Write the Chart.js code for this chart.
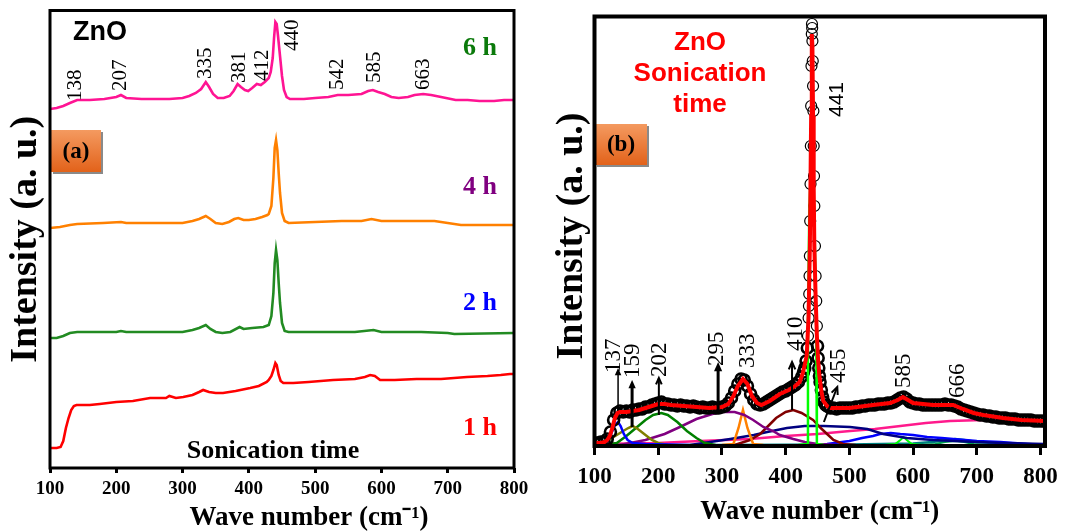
<!DOCTYPE html>
<html><head><meta charset="utf-8">
<script src="https://cdn.jsdelivr.net/npm/chart.js@4.4.1/dist/chart.umd.min.js"></script>
<style>
html,body{margin:0;padding:0;background:#fff;}
#wrap{position:relative;width:1067px;height:532px;overflow:hidden;background:#fff;}
#ca{position:absolute;left:0;top:0;}
#cb{position:absolute;left:533px;top:0;}
</style></head><body>
<div id="wrap"><canvas id="ca" width="533" height="532"></canvas><canvas id="cb" width="534" height="532"></canvas></div>
<script>
// ---------- Panel (a): Raman spectra, stacked (a.u.) ----------
const tickWaves = [100, 200, 300, 400, 500, 600, 700, 800];

const wave6h = [100,110,120,130,141,160,182,200,207,215,238,260,280,300,310,320,328,335,340,346,353,362,371,377,383,388,394,399,405,412,418,424,430,433,436,438,440,442,444,447,450,453,457,462,483,500,520,534,550,570,580,587,595,605,615,626,640,650,663,675,690,712,730,748,770,785,800];
const int6h  = [359,360,362,365,368,368,369,371,373,370,369,369,369,370,372,375,379,386,381,374,370,370,372,377,384,381,378,377,380,384,383,386,390,396,410,430,446,444,432,412,392,378,371,369,369,370,371,373,373,374,377,378,376,374,371,370,371,373,374,373,371,368,368,367,367,368,368];

const wave4h = [100,115,130,141,180,207,215,260,300,315,325,335,342,350,360,370,378,384,392,400,410,420,428,430,434,437,439,441,443,445,447,450,454,460,500,540,570,585,600,650,680,700,720,760,800];
const int4h  = [240,241,243,244,245,246,245,245,245,247,249,252,249,245,244,246,249,250,248,248,249,251,253,254,262,290,320,328,318,295,275,255,247,245,246,247,247,249,247,247,247,245,243,243,243];

const wave2h = [100,110,120,130,141,200,207,215,300,315,325,335,342,350,360,372,386,392,405,422,430,434,437,439,441,443,445,447,450,454,460,500,560,588,600,660,700,710,800];
const int2h  = [130,130,132,135,136,136,137,136,136,138,140,143,139,136,135,136,141,139,140,141,143,152,175,205,218,208,185,165,145,137,136,136,136,138,136,136,135,134,135];

const wave1h = [100,110,116,120,124,128,132,136,140,160,175,200,225,251,275,280,290,301,315,325,331,340,350,361,380,402,415,427,430,434,437,440,442,445,448,452,467,490,527,560,575,583,590,598,620,653,690,729,760,780,794,800];
const int1h  = [20,20,21,27,40,50,58,62,63,63,64,66,67,70,70,72,70,71,73,76,78,76,75,75,77,80,82,86,88,92,98,105,103,93,87,85,85,86,88,89,91,93,92,88,88,89,89,91,92,93,94,94];

// ---------- Panel (b): measured spectrum, fit and fitted components ----------
const bWave = [
 100,105,110,115,120,125,130,135,140,145,
 150,155,160,165,170,175,180,185,190,195,
 200,205,210,215,220,225,230,235,240,245,
 250,255,260,265,270,275,280,285,290,295,
 300,305,310,315,320,325,330,335,340,345,
 350,355,360,365,370,375,380,385,390,395,
 400,405,410,415,420,425,428,430,432,434,
 435,436,436.5,437,437.5,438,438.5,439,439.5,440,
 440.5,441,441.3,441.6,442,442.5,443,443.5,444,444.5,
 445,446,447,448,449,450,451,452,453,454,
 456,458,460,463,465,470,475,480,485,490,
 495,500,505,510,515,520,525,530,535,540,
 545,550,555,560,565,570,575,580,585,590,
 595,600,605,610,615,620,625,630,635,640,
 645,650,655,660,665,670,675,680,685,690,
 695,700,705,710,715,720,725,730,735,740,
 745,750,755,760,765,770,775,780,785,790,
 795,800,805];
const bMeasured = [
 3,3,4,4,7,14,26,33,35,34,
 35,34,36,36,37,37,39,39,41,42,
 43,44,42,42,41,41,40,41,40,40,
 39,40,39,38,39,38,38,39,38,38,
 39,40,43,48,55,62,67,66,60,52,
 46,42,41,42,44,46,48,50,52,54,
 55,57,59,61,64,69,74,78,85,98,
 110,128,140,152,170,190,225,262,300,340,
 380,412,422,418,405,385,360,335,300,270,
 240,200,170,145,120,100,88,78,70,64,
 56,49,44,41,40,38,38,37,38,38,
 38,38,38,39,39,40,40,41,41,41,
 42,42,42,43,43,44,46,48,49,47,
 44,43,42,42,41,41,41,41,41,41,
 41,42,41,41,40,39,37,36,35,34,
 33,32,31,31,30,30,29,29,28,28,
 28,27,27,27,26,26,26,26,26,25,
 25,25,25];

const fitWave = [100,110,116,120,124,128,132,136,140,150,160,170,180,190,200,210,220,240,260,280,300,310,318,325,333,340,347,355,362,375,391,405,415,422,427,433,436,438,440,441,442,443,444,445,447,449,451,453,456,459,465,470,500,537,564,576,584,592,600,631,663,678,695,710,741,770,807];
const fitInt  = [3,3,4,6,10,18,28,33,34,34,35,36,38,40,42,42,41,40,39,38,39,42,50,60,67,62,50,43,41,45,52,56,60,64,73,90,130,200,330,412,400,330,260,200,150,110,85,70,55,45,40,38,38,41,43,46,49,46,43,41,41,37,33,31,28,26,25];

const c137w = [100,115,122,128,133,137,141,146,152,160,180,250];
const c137i = [1,2,6,15,22,24,20,12,6,3,2,1];
const c159w = [105,116,125,135,145,153,160,168,178,190,200,215];
const c159i = [1,3,7,11,15,18,20,17,12,6,3,1];
const c202w = [115,135,150,165,180,192,205,215,230,245,260,273,290];
const c202i = [1,3,10,18,26,31,33,31,24,15,8,3,1];
const c295w = [140,156,180,210,234,260,285,300,320,335,349,365,380,391,412,430,450,480];
const c295i = [1,3,6,12,19,27,32,34,34,31,26,19,15,11,7,4,2,1];
const c333w = [300,318,326,333,340,349,365];
const c333i = [1,2,18,36,18,2,1];
const c410w = [320,344,360,371,385,400,412,425,443,455,465,475,490,510];
const c410i = [1,6,12,19,28,34,36,33,26,18,12,6,2,1];
const c441w = [420,434,435,437,439,441,443,445,448,449,460];
const c441i = [1,2,120,230,268,272,268,230,120,2,1];
const c455w = [250,313,350,371,402,430,460,501,528,553,590,631,700,741,807];
const c455i = [1,7,11,14,18,20,20,19,17,12,8,6,4,3,2];
const c555w = [430,465,500,520,537,548,565,580,600,622,645,663,700,737,780,807];
const c555i = [1,2,5,8,10,12,13,12,11,9,8,7,5,4,2,1];
const c585w = [555,572,580,585,590,598,615];
const c585i = [1,2,6,9,6,2,1];
const c666w = [610,635,650,666,680,695,720];
const c666i = [1,2,4,5,4,2,1];
const cTealW = [100,300,500,600,630,655,666,680,700,750,807];
const cTealI = [1,1,1.5,2.5,4,6,7,6,4,2,1];
const cBroadW = [100,200,266,344,400,450,501,540,580,620,658,710,760,807];
const cBroadI = [2,3,5,7,10,12,15,17,20,23,25,26,26,25];

const peaksA = ['138','207','335','381','412','440','542','585','663'];
const peaksB = ['137','159','202','295','333','410','455','585','666'];

function zip(w, v) { return w.map((x, i) => ({x: x, y: v[i]})); }

const SERIF = '"Liberation Serif", "Times New Roman", serif';
const SANS = '"Liberation Sans", Arial, sans-serif';

function drawArrow(ctx, x0, y0, x1, y1, lw, head, filled) {
  ctx.save();
  ctx.strokeStyle = '#000'; ctx.fillStyle = '#000'; ctx.lineWidth = lw;
  const ang = Math.atan2(y1 - y0, x1 - x0);
  const back = filled ? head * 0.7 : 0;
  ctx.beginPath(); ctx.moveTo(x0, y0);
  ctx.lineTo(x1 - Math.cos(ang) * back, y1 - Math.sin(ang) * back); ctx.stroke();
  const a1 = ang + Math.PI - 0.42, a2 = ang + Math.PI + 0.42;
  ctx.beginPath();
  ctx.moveTo(x1 + Math.cos(a1) * head, y1 + Math.sin(a1) * head);
  ctx.lineTo(x1, y1);
  ctx.lineTo(x1 + Math.cos(a2) * head, y1 + Math.sin(a2) * head);
  if (filled) { ctx.closePath(); ctx.fill(); } else { ctx.lineWidth = Math.max(1.5, lw); ctx.stroke(); }
  ctx.restore();
}

const decor = {
  id: 'decor',
  afterDatasetsDraw(chart, args, o) {
    const ctx = chart.ctx, xs = chart.scales.x, ys = chart.scales.y;
    ctx.save();
    (o.peaks || []).forEach(p => {
      ctx.save();
      ctx.translate(xs.getPixelForValue(p.x), ys.getPixelForValue(p.y));
      ctx.rotate(-Math.PI / 2);
      ctx.font = p.font; ctx.fillStyle = '#000';
      ctx.textAlign = 'left'; ctx.textBaseline = 'middle';
      ctx.fillText(p.text, 0, 0);
      ctx.restore();
    });
    (o.arrows || []).forEach(a => {
      drawArrow(ctx, xs.getPixelForValue(a.x0), ys.getPixelForValue(a.y0),
        xs.getPixelForValue(a.x1), ys.getPixelForValue(a.y1), a.lw, a.head, a.filled);
    });
    if (o.box) {
      const b = o.box;
      ctx.fillStyle = '#8a8a8a';
      ctx.fillRect(b.x + 2, b.y + 2, b.w, b.h);
      const g = ctx.createLinearGradient(0, b.y, 0, b.y + b.h);
      g.addColorStop(0, '#f49a60'); g.addColorStop(1, '#e2621a');
      ctx.fillStyle = g; ctx.fillRect(b.x, b.y, b.w, b.h);
      ctx.font = 'bold 23px ' + SERIF; ctx.fillStyle = '#000';
      ctx.textAlign = 'center'; ctx.textBaseline = 'middle';
      ctx.fillText(b.text, b.x + b.w / 2, b.y + b.h / 2 + 1);
    }
    (o.texts || []).forEach(t => {
      ctx.font = t.font; ctx.fillStyle = t.color || '#000';
      ctx.textAlign = t.align || 'left'; ctx.textBaseline = 'middle';
      ctx.fillText(t.text, t.x, t.y);
    });
    ctx.restore();
  },
  afterDraw(chart, args, o) {
    const ctx = chart.ctx, a = chart.chartArea;
    ctx.save();
    ctx.strokeStyle = '#000'; ctx.lineWidth = o.frame;
    ctx.strokeRect(a.left, a.top, a.right - a.left, a.bottom - a.top);
    ctx.restore();
  }
};

function line(w, v, color, width) {
  return {data: zip(w, v), showLine: true, borderColor: color, borderWidth: width, pointRadius: 0, tension: 0, fill: false};
}

function xAxis(max, fontSize, tickLen, tickPad, titleText, titlePad) {
  return {
    type: 'linear', min: 100, max: max,
    afterBuildTicks(s) { s.ticks = tickWaves.map(v => ({value: v})); },
    ticks: {font: {family: SERIF, size: fontSize, weight: 'bold'}, color: '#000', padding: tickPad, maxRotation: 0, autoSkip: false},
    grid: {display: true, drawOnChartArea: false, drawTicks: true, tickLength: tickLen, tickWidth: 3, tickColor: '#000'},
    border: {display: false},
    title: {display: true, text: titleText, color: '#000', font: {family: SERIF, size: 27, weight: 'bold', lineHeight: 1}, padding: {top: 0, bottom: titlePad}}
  };
}

// ---------- Chart (a) ----------
new Chart(document.getElementById('ca'), {
  type: 'scatter',
  data: {datasets: [
    line(wave6h, int6h, '#ff1493', 2.6),
    line(wave4h, int4h, '#ff8000', 2.6),
    line(wave2h, int2h, '#228b22', 2.6),
    line(wave1h, int1h, '#ff0000', 2.6)
  ]},
  options: {
    responsive: false, animation: false, devicePixelRatio: 1,
    layout: {padding: {left: 0, right: 19, top: 10.5, bottom: 0}},
    plugins: {
      legend: {display: false}, tooltip: {enabled: false},
      decor: {
        frame: 3,
        peaks: [
          {text: peaksA[0], x: 138, y: 367}, {text: peaksA[1], x: 207, y: 377},
          {text: peaksA[2], x: 335, y: 389}, {text: peaksA[3], x: 386, y: 385},
          {text: peaksA[4], x: 420, y: 387}, {text: peaksA[5], x: 466, y: 417},
          {text: peaksA[6], x: 533, y: 378}, {text: peaksA[7], x: 589, y: 385},
          {text: peaksA[8], x: 664, y: 378}
        ].map(p => Object.assign(p, {font: '21px ' + SERIF})),
        box: {x: 51, y: 130, w: 50, h: 42, text: '(a)'},
        texts: [
          {text: 'ZnO', x: 73, y: 33, font: 'bold 27px ' + SANS},
          {text: '6 h', x: 497, y: 48, align: 'right', color: '#0b7a0b', font: 'bold 26px ' + SERIF},
          {text: '4 h', x: 497, y: 187, align: 'right', color: '#800080', font: 'bold 26px ' + SERIF},
          {text: '2 h', x: 497, y: 303, align: 'right', color: '#0000ff', font: 'bold 26px ' + SERIF},
          {text: '1 h', x: 497, y: 428, align: 'right', color: '#ff0000', font: 'bold 26px ' + SERIF},
          {text: 'Sonication time', x: 273, y: 451, align: 'center', font: 'bold 26px ' + SERIF}
        ]
      }
    },
    scales: {
      x: Object.assign(xAxis(800, 19, 5, 4.6, '        Wave number (cm\u207B\u00B9)', 0), {afterFit(s) { s.height = 64; }}),
      y: {
        min: 0, max: 457.5,
        ticks: {display: false}, grid: {display: false}, border: {display: false},
        title: {display: true, text: 'Intensity (a. u.)', color: '#000', font: {family: SERIF, size: 38, weight: 'bold', lineHeight: 1.2}, padding: {top: 3, bottom: 0}},
        afterFit(s) { s.width = 50; }
      }
    }
  },
  plugins: [decor]
});

// ---------- Chart (b) ----------
new Chart(document.getElementById('cb'), {
  type: 'scatter',
  data: {datasets: [
    line(fitWave, fitInt, '#ff0000', 4),
    line(c441w, c441i, '#00ff00', 2.5),
    {data: zip(bWave, bMeasured), showLine: false, pointStyle: 'circle', pointRadius: 5.5,
     pointBorderWidth: (c) => (c.raw && c.raw.y > 100 ? 1.2 : 2.6),
     pointBorderColor: '#000', pointBackgroundColor: 'rgba(0,0,0,0)'},
    line(c137w, c137i, '#0000ff', 2.5),
    line(c159w, c159i, '#808000', 2.5),
    line(c202w, c202i, '#008000', 2.5),
    line(c295w, c295i, '#800080', 2.5),
    line(c333w, c333i, '#ff8000', 2.5),
    line(c410w, c410i, '#800000', 2.5),
    line(c455w, c455i, '#000080', 2.5),
    line(c555w, c555i, '#0000ff', 2.5),
    line(c585w, c585i, '#00ff00', 2),
    line(c666w, c666i, '#00a050', 2),
    line(cTealW, cTealI, '#008080', 2.5),
    line(cBroadW, cBroadI, '#ff1a8c', 2.5)
  ]},
  options: {
    responsive: false, animation: false, devicePixelRatio: 1,
    layout: {padding: {left: 0, right: 22, top: 16.5, bottom: 0}},
    plugins: {
      legend: {display: false}, tooltip: {enabled: false},
      decor: {
        frame: 4,
        peaks: [
          {text: peaksB[0], x: 131, y: 73}, {text: peaksB[1], x: 160, y: 68},
          {text: peaksB[2], x: 203, y: 69}, {text: peaksB[3], x: 292, y: 80},
          {text: peaksB[4], x: 341, y: 78}, {text: peaksB[5], x: 416, y: 95},
          {text: peaksB[6], x: 484, y: 63}, {text: peaksB[7], x: 586, y: 58},
          {text: peaksB[8], x: 671, y: 48}
        ].map(p => Object.assign(p, {font: '23px ' + SERIF})).concat([
          {text: '441', x: 481, y: 329, font: '21px ' + SANS}
        ]),
        arrows: [
          {x0: 137, y0: 36, x1: 137, y1: 78, lw: 1.5, head: 8, filled: true},
          {x0: 159, y0: 19, x1: 159, y1: 66, lw: 3, head: 9, filled: true},
          {x0: 201, y0: 31, x1: 201, y1: 68, lw: 2, head: 7, filled: false},
          {x0: 294, y0: 34, x1: 294, y1: 84, lw: 3, head: 10, filled: true},
          {x0: 410, y0: 36, x1: 410, y1: 84, lw: 2, head: 8, filled: false},
          {x0: 460, y0: 24, x1: 481, y1: 59, lw: 2, head: 8, filled: false}
        ],
        box: {x: 62, y: 124, w: 52, h: 41, text: '(b)'},
        texts: [
          {text: 'ZnO', x: 167, y: 43, align: 'center', color: '#ff0000', font: 'bold 26px ' + SANS},
          {text: 'Sonication', x: 167, y: 74, align: 'center', color: '#ff0000', font: 'bold 26px ' + SANS},
          {text: 'time', x: 167, y: 105, align: 'center', color: '#ff0000', font: 'bold 26px ' + SANS}
        ]
      }
    },
    scales: {
      x: Object.assign(xAxis(807, 23, 9, 8.2, 'Wave number (cm\u207B\u00B9)', 6.5), {afterFit(s) { s.height = 86; }}),
      y: {
        min: 0, max: 429.5,
        ticks: {display: false}, grid: {display: false}, border: {display: false},
        title: {display: true, text: 'Intensity (a. u.) ', color: '#000', font: {family: SERIF, size: 38, weight: 'bold', lineHeight: 1.2}, padding: {top: 16, bottom: 0}},
        afterFit(s) { s.width = 61.5; }
      }
    }
  },
  plugins: [decor]
});
</script>
</body></html>
